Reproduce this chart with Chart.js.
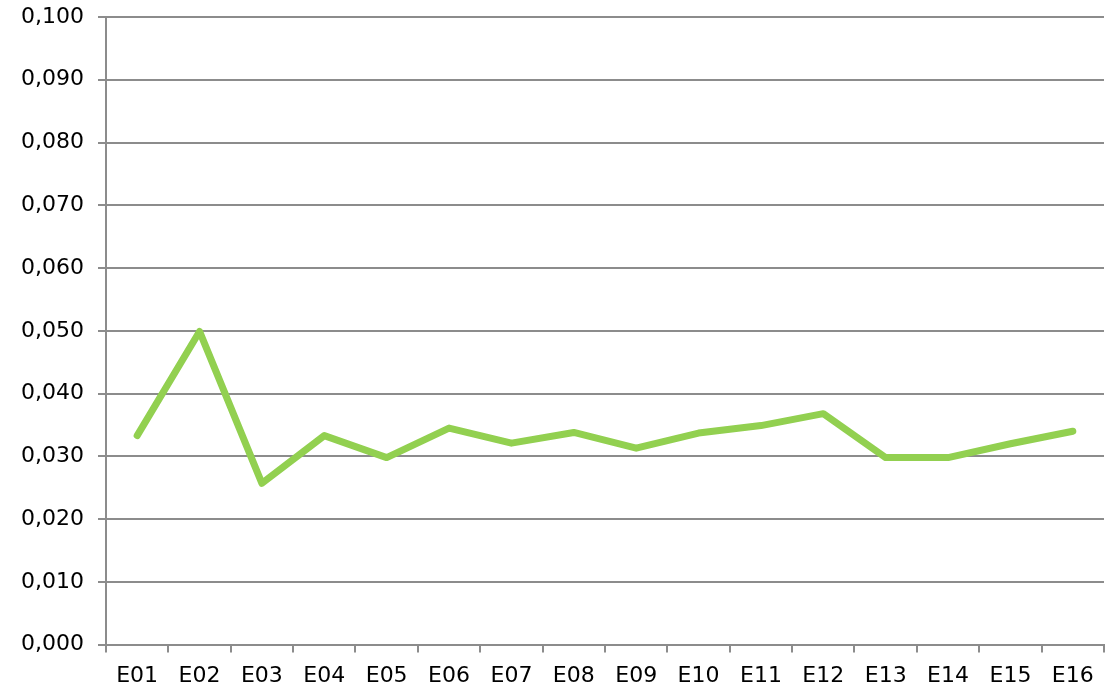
<!DOCTYPE html>
<html lang="en">
<head>
    <meta charset="UTF-8">
    <title>E01-E16 line chart</title>
    <script src="https://cdn.jsdelivr.net/npm/chart.js"></script>
    <style>
        body { margin: 0; background: #fff; }
        #wrap { width: 1119px; height: 690px; }
    </style>
</head>
<body>

<div id="wrap"><canvas id="dataChart"></canvas></div>

<script>
    const categories = ['E01', 'E02', 'E03', 'E04', 'E05', 'E06', 'E07', 'E08',
                        'E09', 'E10', 'E11', 'E12', 'E13', 'E14', 'E15', 'E16'];
    const values = [0.0333, 0.0499, 0.0257, 0.0333, 0.0298, 0.0345, 0.0321, 0.0338,
                    0.0313, 0.0337, 0.0349, 0.0368, 0.0298, 0.0298, 0.0320, 0.0340];

    const gridGray = '#8c8c8c';
    const labelFont = { family: 'DejaVu Sans', size: 22 };

    const ctx = document.getElementById('dataChart').getContext('2d');
    new Chart(ctx, {
        type: 'line',
        data: {
            labels: categories,
            datasets: [{
                data: values,
                borderColor: '#92d050',
                borderWidth: 7,
                borderCapStyle: 'round',
                borderJoinStyle: 'round',
                pointRadius: 0,
                tension: 0,
                fill: false
            }]
        },
        options: {
            responsive: true,
            maintainAspectRatio: false,
            animation: false,
            layout: { padding: { top: 0, right: 15, left: 7, bottom: -9 } },
            plugins: {
                legend: { display: false },
                tooltip: { enabled: false }
            },
            scales: {
                x: {
                    offset: true,
                    grid: {
                        offset: true,
                        drawOnChartArea: false,
                        drawTicks: true,
                        tickLength: 8,
                        color: gridGray,
                        lineWidth: 2
                    },
                    border: { color: gridGray, width: 2 },
                    ticks: {
                        color: '#000',
                        font: labelFont,
                        padding: 10,
                        maxRotation: 0,
                        autoSkip: false
                    }
                },
                y: {
                    min: 0,
                    max: 0.1,
                    // keep the top label close to the canvas edge like the original
                    afterFit: s => { s.paddingTop = 17; },
                    grid: {
                        color: gridGray,
                        lineWidth: 2,
                        tickLength: 8
                    },
                    border: { color: gridGray, width: 2 },
                    ticks: {
                        stepSize: 0.01,
                        color: '#000',
                        font: labelFont,
                        padding: 14,
                        callback: v => v.toFixed(3).replace('.', ',')
                    }
                }
            }
        }
    });
</script>

</body>
</html>
